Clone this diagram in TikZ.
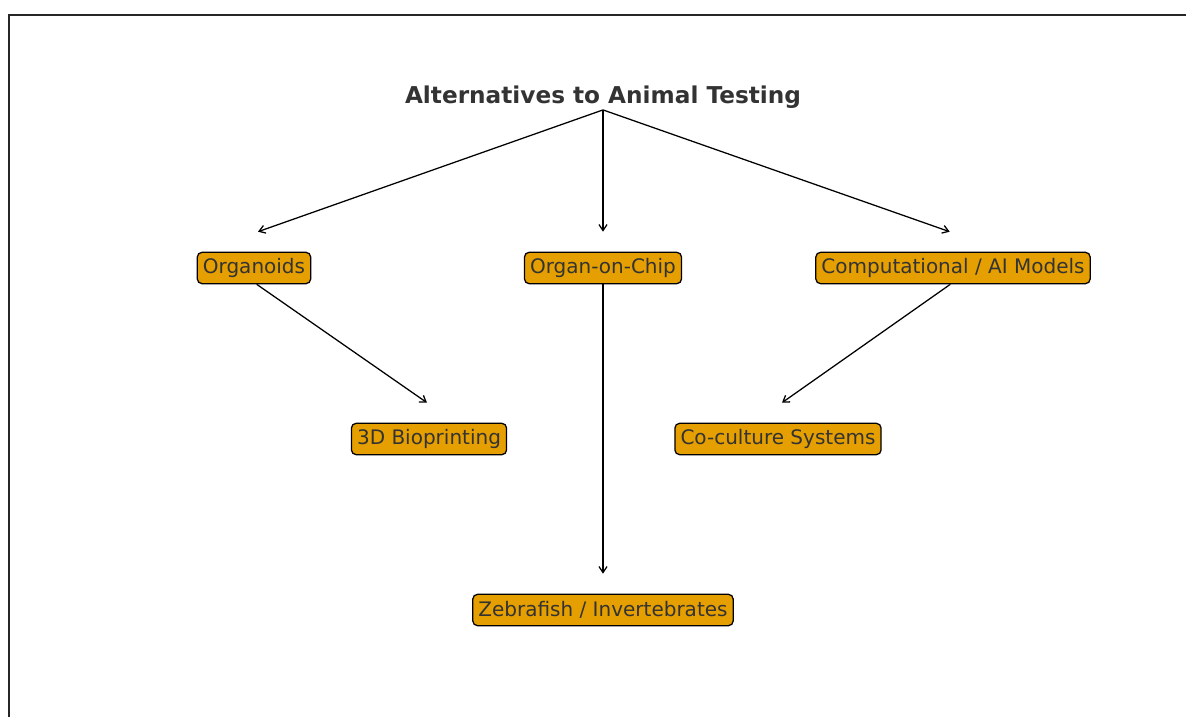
\documentclass[tikz,border=0pt]{standalone}
\usepackage{fontspec}
\setmainfont{DejaVu Sans}
\usetikzlibrary{arrows.meta}
\definecolor{altbox}{HTML}{E69F00}
\definecolor{alttext}{HTML}{333333}
\tikzset{
  altnode/.style={draw=black, fill=altbox, rounded corners=3.5pt, line width=0.95pt,
                  text=alttext, font=\fontsize{15pt}{17pt}\selectfont,
                  inner xsep=4.2pt, inner ysep=0pt, minimum height=23.5pt},
  alttitle/.style={text=alttext, font=\fontsize{17.4pt}{20pt}\selectfont\bfseries, inner sep=1pt},
  altlink/.style={-{Straight Barb[length=4.5pt, width=6pt]}, line width=0.95pt, black},
  altframe/.style={draw=black!85, line width=1.6pt},
}

\begin{document}
\begin{tikzpicture}[x=0.75pt, y=-0.75pt]
    \useasboundingbox (0,0) rectangle (1186,717);
    \draw[altframe] (9,15) rectangle (1210,740);
    \node[alttitle] (top) at (603,97) {Alternatives to Animal Testing};
    \node[altnode] (org) at (254,268) {Organoids};
    \node[altnode] (chip) at (603,268) {Organ-on-Chip};
    \node[altnode] (comp) at (953,268) {Computational / AI Models};
    \node[altnode] (bio) at (429,439) {3D Bioprinting};
    \node[altnode] (cocult) at (778,439) {Co-culture Systems};
    \node[altnode] (zebra) at (603,610) {Zebrafish / Invertebrates};
    \coordinate (org-in) at ([xshift=3pt, yshift=15pt]org.north);
    \coordinate (chip-in) at ([yshift=15pt]chip.north);
    \coordinate (comp-in) at ([xshift=-2.5pt, yshift=15pt]comp.north);
    \coordinate (bio-in) at ([xshift=-1.5pt, yshift=15pt]bio.north);
    \coordinate (cocult-in) at ([xshift=3pt, yshift=15pt]cocult.north);
    \coordinate (zebra-in) at ([yshift=15pt]zebra.north);
    \draw[altlink] (top.south) -- (org-in);
    \draw[altlink] (top.south) -- (chip-in);
    \draw[altlink] (top.south) -- (comp-in);
    \draw[altlink] ([xshift=2pt]org.south) -- (bio-in);
    \draw[altlink] (chip.south) -- (zebra-in);
    \draw[altlink] ([xshift=-2pt]comp.south) -- (cocult-in);
\end{tikzpicture}
\end{document}
